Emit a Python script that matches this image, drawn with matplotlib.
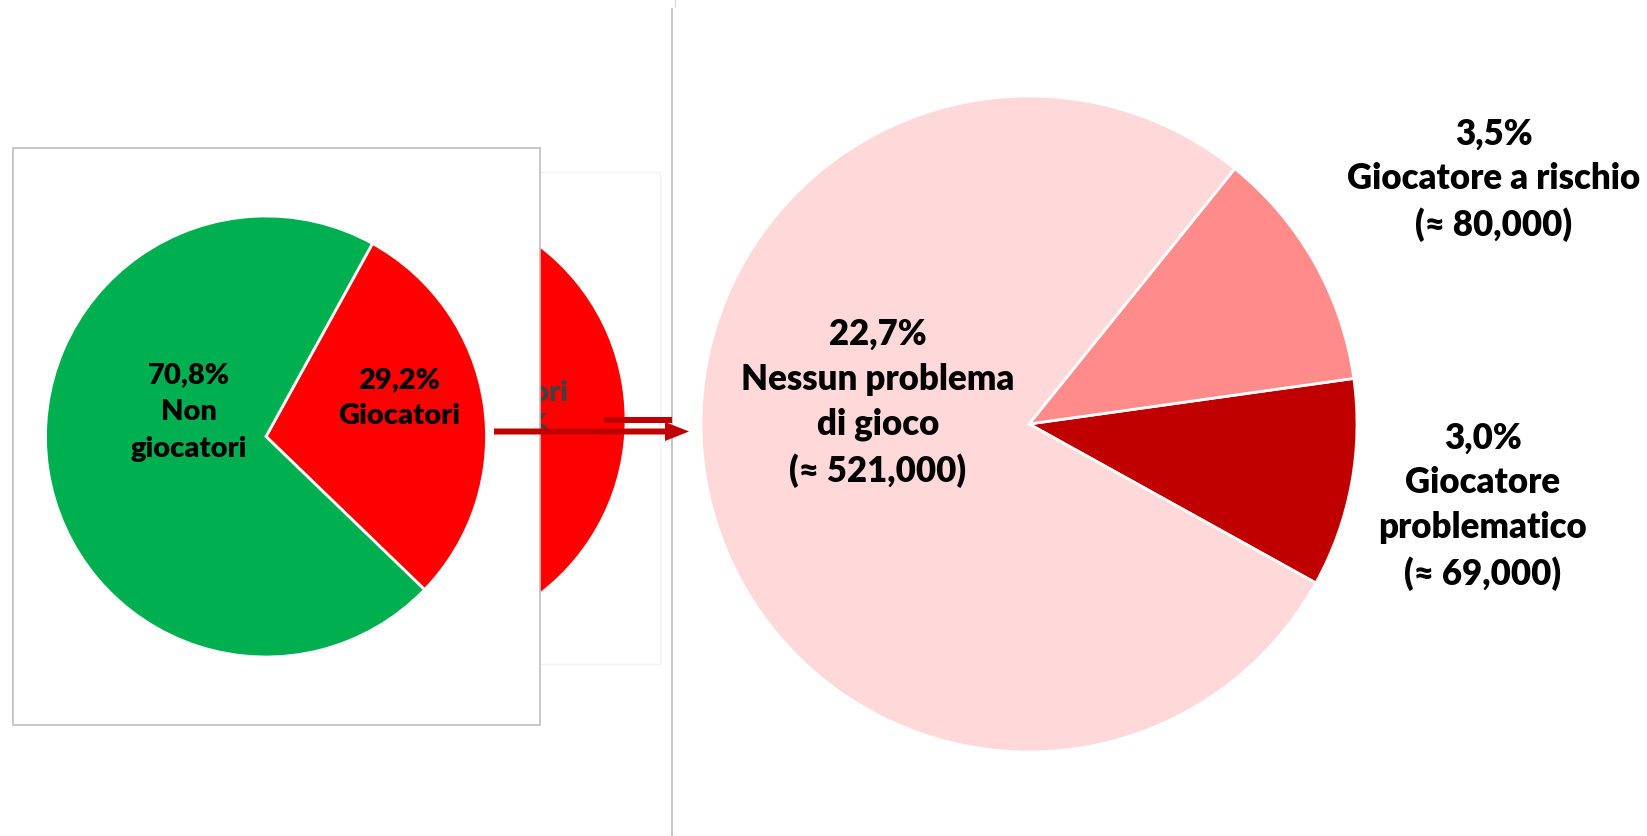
import matplotlib
matplotlib.use('Agg')
import matplotlib.pyplot as plt
from matplotlib.patches import Rectangle, FancyArrow

plt.rcParams['font.family'] = ['Lato', 'DejaVu Sans']

W, H = 1647, 837

# primo livello: giocatori / non giocatori
left_names = ['Giocatori', 'Non\ngiocatori']
left_values = [29.2, 70.8]
left_colors = ['#FF0000', '#00B050']

# secondo livello: i giocatori divisi per profilo di rischio
right_names = ['Giocatore\nproblematico', 'Giocatore a rischio', 'Nessun problema\ndi gioco']
right_values = [3.0, 3.5, 22.7]
right_counts = ['69,000', '80,000', '521,000']
right_colors = ['#C00000', '#FF8B8B', '#FFD9D9']

WEIGHT = 800


def pct(v):
    return f'{v:.1f}'.replace('.', ',') + '%'


def fy(y):
    # pixel dall'alto -> coordinate del grafico
    return H - y


fig = plt.figure(figsize=(W / 100, H / 100), dpi=100)
ax = fig.add_axes([0, 0, 1, 1])

edge = dict(edgecolor='white', linewidth=2)

# grafico "nascosto" dietro al riquadro
ax.add_patch(Rectangle((300, fy(665)), 360, 492, fill=False,
                       edgecolor='#F2F2F2', lw=1, zorder=0.5))
ax.pie(left_values, colors=left_colors, startangle=-52.5, counterclock=True,
       center=(407, fy(421)), radius=219, frame=True,
       wedgeprops=dict(edge, zorder=1))
hidden = ax.text(568, fy(409), f'{left_names[0]}\n{pct(left_values[0])}',
                 ha='right', va='center', multialignment='center',
                 fontsize=21, fontweight=WEIGHT, color='#404040',
                 linespacing=1.3, zorder=1.5)
# solo la parte che sporge dal riquadro resta visibile
clip = Rectangle((540, 0), W - 540, H, transform=ax.transData)
hidden.set_clip_path(clip)

# riquadro principale a sinistra
ax.add_patch(Rectangle((13, fy(726)), 527, 577, facecolor='white',
                       edgecolor='#BFBFBF', lw=1.2, zorder=2))
ax.pie(left_values, colors=left_colors, startangle=-44, counterclock=True,
       center=(266, fy(437.5)), radius=220.5, frame=True,
       wedgeprops=dict(edge, zorder=3))

left_pos = [(399, 398), (189, 412)]
for name, v, (x, y) in zip(left_names, left_values, left_pos):
    ax.text(x, fy(y), f'{pct(v)}\n{name}', ha='center', va='center',
            fontsize=21, fontweight=WEIGHT, color='black',
            linespacing=1.5, zorder=4)

# freccia
ax.add_patch(Rectangle((604, fy(423.7)), 68, 6, color='#C00000', lw=0, zorder=5))
ax.add_patch(FancyArrow(494, fy(432.5), 195, 0, width=6, head_width=19,
                        head_length=24, length_includes_head=True,
                        color='#C00000', lw=0, zorder=5))

# linea verticale
ax.vlines(672, 0, fy(9), color='#BFBFBF', lw=1.2, zorder=2)
ax.vlines(675, fy(8), H, color='#D9D9D9', lw=1, zorder=2)

# grafico di destra
ax.pie(right_values, colors=right_colors, startangle=-29, counterclock=True,
       center=(1029, fy(425)), radius=328, frame=True,
       wedgeprops=dict(edge, zorder=3))

right_pos = [(1483, 506), (1494, 180), (878, 403)]
for name, v, n, (x, y) in zip(right_names, right_values, right_counts, right_pos):
    ax.text(x, fy(y), f'{pct(v)}\n{name}\n(≈ {n})', ha='center', va='center',
            fontsize=25, fontweight=WEIGHT, color='black',
            linespacing=1.43, zorder=4)

ax.set_xlim(0, W)
ax.set_ylim(0, H)
ax.set_aspect('equal')
ax.axis('off')

fig.savefig('out.png', dpi=100, facecolor='white')
